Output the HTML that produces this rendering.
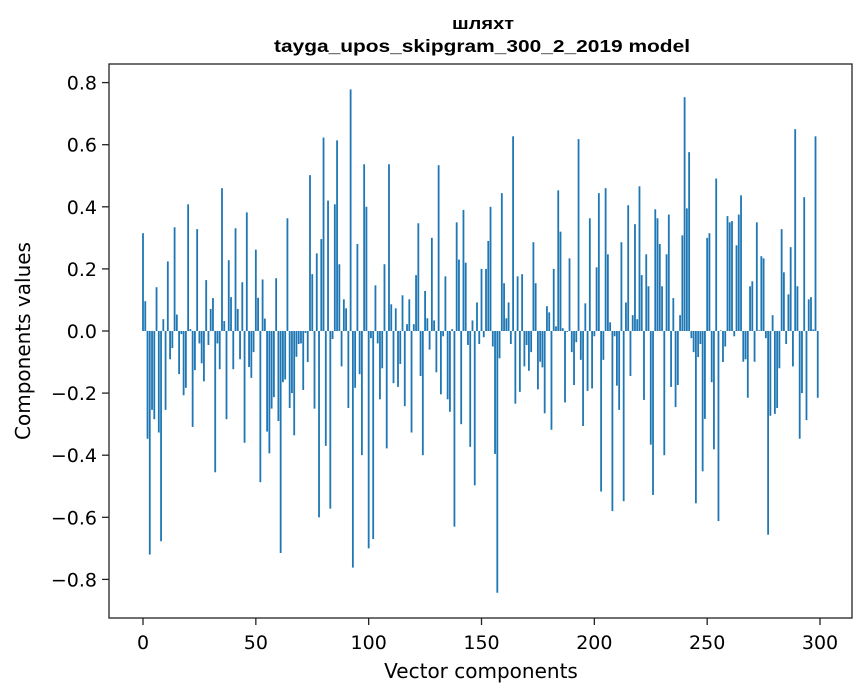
<!DOCTYPE html>
<html><head><meta charset="utf-8"><style>
html,body{margin:0;padding:0;background:#fff;}
svg{display:block;}
</style></head><body>
<svg id="chart" width="867" height="696" viewBox="0 0 867 696" xmlns="http://www.w3.org/2000/svg">
<rect width="867" height="696" fill="#fff"/>
<text x="483" y="29" text-anchor="middle" font-family="Liberation Sans, DejaVu Sans, sans-serif" font-weight="bold" font-size="17" textLength="62" lengthAdjust="spacingAndGlyphs">шляхт</text>
<text x="482" y="52" text-anchor="middle" font-family="Liberation Sans, DejaVu Sans, sans-serif" font-weight="bold" font-size="17.5" textLength="416" lengthAdjust="spacingAndGlyphs">tayga_upos_skipgram_300_2_2019 model</text>
<g id="bars"></g>
<g id="axes"></g>
<text x="481" y="678" text-anchor="middle" font-family="DejaVu Sans, sans-serif" font-size="20">Vector components</text>
<text transform="translate(30,341) rotate(-90)" text-anchor="middle" font-family="DejaVu Sans, sans-serif" font-size="20">Components values</text>
</svg>
<script>
const values = [
0.315,0.096,-0.347,-0.72,-0.254,-0.284,0.141,-0.327,-0.677,0.038,
-0.254,0.224,-0.091,-0.055,0.334,0.053,-0.139,-0.01,-0.207,-0.183,
0.408,0.006,-0.309,-0.126,0.328,-0.04,-0.104,-0.162,0.164,-0.045,
0.071,0.106,-0.455,-0.04,-0.123,0.46,0.032,-0.284,0.228,0.109,
-0.123,0.331,0.071,-0.091,0.157,-0.36,0.382,-0.116,-0.151,-0.068,
0.262,0.107,-0.487,0.166,0.04,-0.324,-0.394,-0.25,-0.213,0.17,
-0.29,-0.715,-0.165,-0.156,0.363,-0.248,-0.2,-0.336,-0.083,-0.042,
-0.04,-0.19,-0.006,-0.1,0.502,0.183,-0.25,0.25,-0.6,0.296,
0.623,-0.37,0.42,-0.572,-0.026,0.408,0.614,0.215,-0.114,0.102,
0.073,-0.248,0.778,-0.762,-0.183,0.28,-0.139,-0.4,0.537,0.4,
-0.7,-0.023,-0.67,0.147,-0.04,-0.22,-0.12,0.215,-0.378,0.537,
0.086,-0.168,0.073,-0.18,-0.106,0.115,-0.242,0.022,0.102,-0.327,
0.022,0.18,0.347,-0.145,-0.4,0.129,0.041,-0.06,0.3,0.034,
-0.133,0.534,-0.204,-0.017,0.176,-0.22,-0.26,0.006,-0.63,0.35,
0.23,-0.3,0.39,0.22,-0.045,-0.373,0.034,-0.497,0.092,-0.042,
0.2,-0.02,0.2,0.29,0.4,-0.05,-0.396,-0.843,-0.088,0.444,
0.154,0.041,0.092,-0.042,0.627,-0.234,0.176,-0.196,0.183,-0.114,
-0.045,-0.128,-0.068,0.286,0.154,-0.188,-0.099,-0.117,-0.265,0.08,
0.06,-0.318,0.2,0.015,0.453,0.32,0.009,-0.23,-0.003,0.234,
-0.068,-0.174,-0.036,0.618,-0.093,-0.306,0.089,-0.193,0.363,-0.185,
-0.017,0.205,0.444,-0.517,-0.093,0.46,0.247,0.028,-0.58,-0.017,
-0.176,-0.254,0.286,-0.548,0.092,0.405,-0.145,0.051,0.344,0.038,
0.466,0.18,-0.222,0.247,0.144,-0.366,-0.528,0.392,0.363,0.28,
0.144,-0.4,0.247,0.375,-0.18,0.106,-0.245,-0.174,0.051,0.308,
0.753,0.395,0.576,-0.023,-0.068,-0.555,-0.084,-0.042,-0.452,-0.283,
0.3,0.315,-0.165,-0.381,0.491,-0.612,0.002,-0.1,-0.05,0.37,
0.35,0.354,-0.017,0.276,0.375,0.437,-0.099,-0.091,-0.215,0.144,
0.16,-0.099,0.35,0.002,0.241,0.234,-0.023,-0.656,-0.273,0.051,
-0.267,-0.248,-0.12,0.328,0.189,-0.042,0.118,0.27,-0.114,0.65,
0.144,-0.347,-0.2,0.431,-0.287,0.102,0.109,0.005,0.627,-0.215
];
const xTicks = [0,50,100,150,200,250,300];
const yTicks = [-0.8,-0.6,-0.4,-0.2,0.0,0.2,0.4,0.6,0.8];
const yTickLabels = ["\u22120.8","\u22120.6","\u22120.4","\u22120.2","0.0","0.2","0.4","0.6","0.8"];

const NS = "http://www.w3.org/2000/svg";
const L = 109, R = 852, T = 64, B = 618;
const x0 = 143, xPer = 2.2567;
const yZero = 331, yPer = 310.5;
function xs(v){ return x0 + v * xPer; }
function ys(v){ return yZero - v * yPer; }

const bars = document.getElementById('bars');
values.forEach(function(v, i){
  const r = document.createElementNS(NS, 'rect');
  const w = 0.8 * xPer;
  const y1 = ys(Math.max(v, 0)), y2 = ys(Math.min(v, 0));
  r.setAttribute('x', xs(i) - w / 2);
  r.setAttribute('y', y1);
  r.setAttribute('width', w);
  r.setAttribute('height', Math.max(y2 - y1, 0.01));
  r.setAttribute('fill', '#1f77b4');
  
  
  bars.appendChild(r);
});

const axes = document.getElementById('axes');
const frame = document.createElementNS(NS, 'rect');
frame.setAttribute('x', L); frame.setAttribute('y', T);
frame.setAttribute('width', R - L); frame.setAttribute('height', B - T);
frame.setAttribute('fill', 'none'); frame.setAttribute('stroke', '#222'); frame.setAttribute('stroke-width', '1.3');


axes.appendChild(frame);

xTicks.forEach(function(t){
  const x = xs(t);
  const ln = document.createElementNS(NS, 'line');
  ln.setAttribute('x1', x); ln.setAttribute('x2', x);
  ln.setAttribute('y1', B); ln.setAttribute('y2', B + 7);
  ln.setAttribute('stroke', '#222'); ln.setAttribute('stroke-width', '1.3');
  
  
  axes.appendChild(ln);
  const tx = document.createElementNS(NS, 'text');
  tx.setAttribute('x', x); tx.setAttribute('y', 649);
  tx.setAttribute('text-anchor', 'middle');
  tx.setAttribute('font-family', 'DejaVu Sans, sans-serif');
  tx.setAttribute('font-size', '19');
  tx.textContent = String(t);
  
  
  axes.appendChild(tx);
});

yTicks.forEach(function(t, i){
  const y = ys(t);
  const ln = document.createElementNS(NS, 'line');
  ln.setAttribute('x1', L - 7); ln.setAttribute('x2', L);
  ln.setAttribute('y1', y); ln.setAttribute('y2', y);
  ln.setAttribute('stroke', '#222'); ln.setAttribute('stroke-width', '1.3');
  
  
  axes.appendChild(ln);
  const tx = document.createElementNS(NS, 'text');
  tx.setAttribute('x', L - 12); tx.setAttribute('y', y + 7);
  tx.setAttribute('text-anchor', 'end');
  tx.setAttribute('font-family', 'DejaVu Sans, sans-serif');
  tx.setAttribute('font-size', '19');
  tx.textContent = yTickLabels[i];
  
  
  axes.appendChild(tx);
});
</script>
</body></html>
